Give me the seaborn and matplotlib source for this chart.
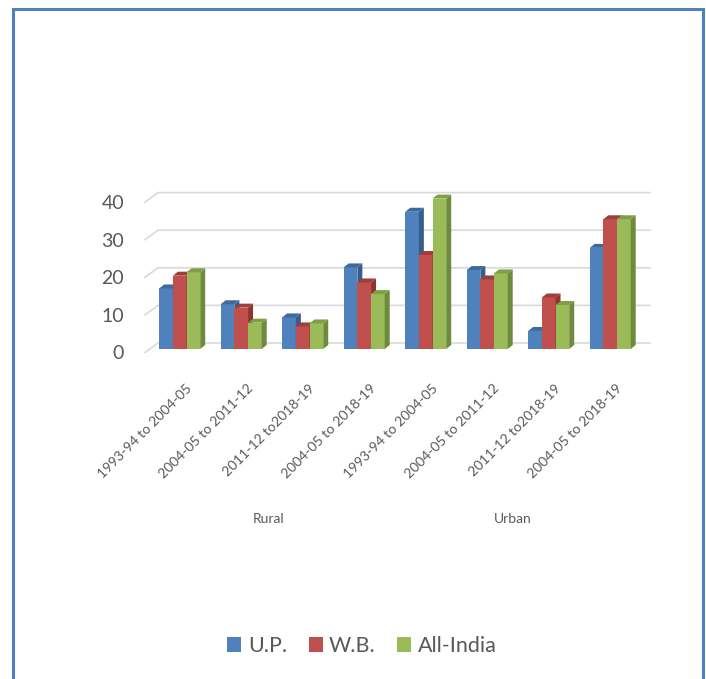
import numpy as np
import pandas as pd
import matplotlib
matplotlib.use("Agg")
import matplotlib.pyplot as plt
import seaborn as sns
from matplotlib.patches import Rectangle, Polygon
from matplotlib.transforms import ScaledTranslation

# データ
areas = ["Rural"] * 4 + ["Urban"] * 4
periods = ["1993-94 to 2004-05", "2004-05 to 2011-12", "2011-12 to2018-19", "2004-05 to 2018-19",
           "1993-94 to 2004-05", "2004-05 to 2011-12", "2011-12 to2018-19", "2004-05 to 2018-19"]
series = ["U.P.", "W.B.", "All-India"]
up_vals = [16.1, 11.9, 8.4, 21.7, 36.5, 21.0, 4.8, 26.9]
wb_vals = [19.5, 11.0, 6.0, 17.7, 25.0, 18.5, 13.7, 34.5]
india_vals = [20.4, 7.0, 6.8, 14.6, 40.0, 20.1, 11.7, 34.5]
yticks = [0, 10, 20, 30, 40]

colors = ["#4F81BD", "#C0504D", "#9BBB59"]
side_colors = ["#375D8C", "#8E3532", "#6E8A3C"]
top_colors = ["#3E6A9E", "#A03E3B", "#7F9E45"]
text_gray = "#595959"

keys = [f"{a}|{i}" for i, a in enumerate(areas)]
df = pd.DataFrame({
    "key": keys * 3,
    "series": np.repeat(series, len(keys)),
    "value": up_vals + wb_vals + india_vals,
})

W, H, DPI = 706, 679, 100
fig = plt.figure(figsize=(W / DPI, H / DPI), dpi=DPI)
plt.rcParams["font.family"] = ["Lato", "DejaVu Sans"]

# 軸の位置 (ピクセル)
ax_left, ax_right, ax_zero = 145, 637, 349
px_per_unit = 3.76
ymax = 45
ax = fig.add_axes([ax_left / W, 1 - ax_zero / H, (ax_right - ax_left) / W, ymax * px_per_unit / H])

sns.barplot(data=df, x="key", y="value", hue="series", order=keys, hue_order=series,
            palette=colors, width=0.667, saturation=1, gap=0, legend=False,
            linewidth=0, ax=ax)

x0 = (ax_left - 179.7) / 61.5
x1 = (ax_right - 179.7) / 61.5
ax.set_xlim(x0, x1)
ax.set_ylim(0, ymax)
for s in ax.spines.values():
    s.set_visible(False)
ax.tick_params(length=0)
ax.set_xlabel("")
ax.set_ylabel("")

to_data = ax.transData.inverted()

def disp(x, y):
    return ax.transData.transform((x, y))

def back(pts):
    return to_data.transform(np.array(pts))

# グリッド線 (奥行き付き)
for v in yticks:
    fx, fy = disp(x0, v)
    pts = [(fx, fy - 3.5), (fx + 13, fy + 6), (650 , fy + 6)]
    pts = back(pts)
    ax.plot(pts[:, 0], pts[:, 1], color="#D9D9D9", lw=1.2, zorder=0, clip_on=False)

# 3D の側面と上面
dx, dy = 5, 4
for k, cont in enumerate(ax.containers):
    for p in cont.patches:
        p.set_zorder(2 + k)
        bx0, by0 = disp(p.get_x(), 0)
        bx1, by1 = disp(p.get_x() + p.get_width(), p.get_height())
        side = back([(bx1, by0), (bx1 + dx, by0 + dy), (bx1 + dx, by1 + dy), (bx1, by1)])
        top = back([(bx0, by1), (bx0 + dx, by1 + dy), (bx1 + dx, by1 + dy), (bx1, by1)])
        ax.add_patch(Polygon(side, closed=True, facecolor=side_colors[k], lw=0, zorder=2 + k, clip_on=False))
        ax.add_patch(Polygon(top, closed=True, facecolor=top_colors[k], lw=0, zorder=2 + k, clip_on=False))

# 目盛りラベル
ax.set_yticks(yticks)
ax.set_yticklabels([str(v) for v in yticks], fontsize=14, color=text_gray)
ax.tick_params(axis="y", pad=15)
for lab in ax.get_yticklabels():
    lab.set_transform(lab.get_transform() + ScaledTranslation(0, -3.5 / DPI, fig.dpi_scale_trans))

ax.set_xticks(range(len(periods)))
ax.set_xticklabels(periods, rotation=45, ha="right", va="top", rotation_mode="anchor",
                   fontsize=10, color=text_gray)
ax.tick_params(axis="x", pad=24)
for lab in ax.get_xticklabels():
    lab.set_transform(lab.get_transform() + ScaledTranslation(6 / DPI, 0, fig.dpi_scale_trans))

# Rural / Urban ラベル
for name, xc in [("Rural", 1.44), ("Urban", 5.42)]:
    ax.text(xc, 1 - 519 / H, name, transform=ax.get_xaxis_transform() if False else
            matplotlib.transforms.blended_transform_factory(ax.transData, fig.transFigure),
            ha="center", va="center", fontsize=10, color=text_gray)

# 凡例
handles = [Rectangle((0, 0), 1, 1, facecolor=c, lw=0) for c in colors]
fig.legend(handles, series, loc="center", bbox_to_anchor=(362 / W, 1 - 646 / H), ncol=3,
           frameon=False, fontsize=15.5, handlelength=0.65, handleheight=0.65,
           handletextpad=0.3, columnspacing=1.0, labelcolor=text_gray)

# 外枠
fig.patches.append(Rectangle((12.5 / W, -0.05), (703 - 12.5) / W, 1.05 - 8.5 / H,
                             transform=fig.transFigure, fill=False, edgecolor="#4F81BD",
                             lw=2.2, zorder=10))

fig.savefig("out.png", dpi=DPI)
